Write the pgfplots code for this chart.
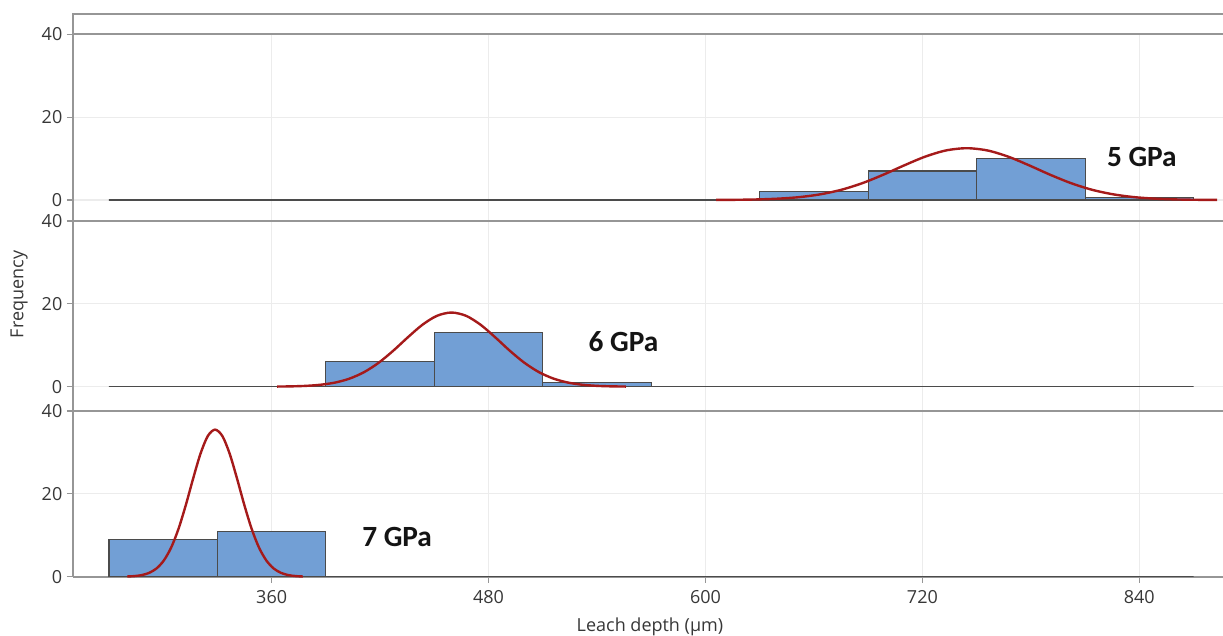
\documentclass[border=0pt]{standalone}
\usepackage{pgfplots}
\pgfplotsset{compat=1.18}
\usepackage{fontspec}
\setmainfont{Open Sans}
\newfontfamily\labfont{Carlito}
\definecolor{barfill}{RGB}{114,159,213}
\definecolor{baredge}{RGB}{75,75,75}
\definecolor{fitred}{RGB}{165,26,26}
\definecolor{framegray}{RGB}{150,150,150}
\definecolor{gridgray}{RGB}{236,236,236}
\definecolor{ticktext}{RGB}{55,55,55}
\tikzset{gpa/.style={font=\labfont\bfseries\fontsize{22}{24}\selectfont, text=black!92}}
\pgfplotsset{
  panel/.style={
    scale only axis, width=862.5pt,
    xmin=250.1, xmax=886.3, ymax=40,
    axis lines*=left,
    axis line style={framegray, line width=1.2pt},
    tick align=outside,
    major tick length=4.5pt,
    tick style={framegray, line width=0.9pt},
    xtick={360,480,600,720,840},
    ytick={0,20,40},
    grid=major,
    major grid style={gridgray, line width=0.8pt},
    ticklabel style={font=\fontsize{13.5}{15}\selectfont, text=ticktext},
    xticklabel style={yshift=-2.5pt},
    /pgf/number format/assume math mode=true,
    clip=false,
  },
  bars/.style={ybar interval, fill=barfill, draw=baredge, line width=0.85pt},
  fit/.style={fitred, line width=1.8pt, smooth},
}
\begin{document}
\begin{tikzpicture}
\useasboundingbox (0,0) rectangle (917.25pt,476.25pt);

% ---------- panel 1 : 5 GPa ----------
\begin{axis}[panel, at={(54.75pt,310.5pt)}, anchor=south west,
  height=140.03pt, ymin=-5.07,
  xticklabels={}, xtick style={draw=none}]
\addplot[bars] coordinates {(270,0) (330,0) (390,0) (450,0) (510,0) (570,0)
  (630,2) (690,7) (750,10) (810,0.5) (870,0.5)};
\addplot[fit] coordinates {
(605.9,0.02) (617.45,0.05) (629.0,0.14) (640.55,0.33) (652.1,0.70)
(663.65,1.38) (675.2,2.47) (686.75,4.06) (698.3,6.09) (709.85,8.34)
(721.4,10.44) (732.95,11.95) (744.5,12.5) (756.05,11.95) (767.6,10.44)
(779.15,8.34) (790.7,6.09) (802.25,4.06) (813.8,2.47) (825.35,1.38)
(836.9,0.70) (848.45,0.33) (860.0,0.14) (871.55,0.05) (883.1,0.02)};
\node[gpa] at (axis cs:841.4,10.45) {5 GPa};
\draw[framegray, line width=1.2pt] (rel axis cs:0,1) -- (rel axis cs:1,1);
\end{axis}

% ---------- panel 2 : 6 GPa ----------
\begin{axis}[panel, at={(54.75pt,168pt)}, anchor=south west,
  height=142.51pt, ymin=-5.87,
  xticklabels={}, xtick style={draw=none}]
\addplot[bars] coordinates {(270,0) (330,0) (390,6) (450,13) (510,1) (570,0)
  (630,0) (690,0) (750,0) (810,0) (870,0)};
\addplot[fit] coordinates {
(363.02,0.03) (371.06,0.08) (379.1,0.20) (387.14,0.47) (395.18,1.00)
(403.22,1.97) (411.26,3.54) (419.3,5.81) (427.34,8.71) (435.38,11.94)
(443.42,14.95) (451.46,17.11) (459.5,17.9) (467.54,17.11) (475.58,14.95)
(483.62,11.94) (491.66,8.71) (499.7,5.81) (507.74,3.54) (515.78,1.97)
(523.82,1.00) (531.86,0.47) (539.9,0.20) (547.94,0.08) (555.98,0.03)};
\node[gpa] at (axis cs:554.6,10.9) {6 GPa};
\draw[framegray, line width=1.2pt] (rel axis cs:0,1) -- (rel axis cs:1,1);
\end{axis}

% ---------- panel 3 : 7 GPa ----------
\begin{axis}[panel, at={(54.75pt,43.725pt)}, anchor=south west,
  height=124.28pt, ymin=0]
\addplot[bars] coordinates {(270,9) (330,11) (390,0) (450,0) (510,0) (570,0)
  (630,0) (690,0) (750,0) (810,0) (870,0)};
\addplot[fit] coordinates {
(280.1,0.05) (284.15,0.15) (288.2,0.39) (292.25,0.93) (296.3,1.99)
(300.35,3.92) (304.4,7.03) (308.45,11.53) (312.5,17.28) (316.55,23.68)
(320.6,29.65) (324.65,33.94) (328.7,35.5) (332.75,33.94) (336.8,29.65)
(340.85,23.68) (344.9,17.28) (348.95,11.53) (353.0,7.03) (357.05,3.92)
(361.1,1.99) (365.15,0.93) (369.2,0.39) (373.25,0.15) (377.3,0.05)};
\node[gpa] at (axis cs:429.4,9.6) {7 GPa};
\draw[framegray, line width=1.2pt] (rel axis cs:0,1) -- (rel axis cs:1,1);
\end{axis}

% top strip of the panel frame
\draw[framegray, line width=1.2pt] (54.75pt,450.5pt) -- (54.75pt,465.75pt) -- (917.25pt,465.75pt);

% axis titles
\node[rotate=90, font=\fontsize{13.5}{15}\selectfont, text=ticktext] at (14.25pt,255.4pt) {Frequency};
\node[font=\fontsize{13.5}{15}\selectfont, text=ticktext] at (487.5pt,6.0pt) {Leach depth (µm)};
\end{tikzpicture}
\end{document}
